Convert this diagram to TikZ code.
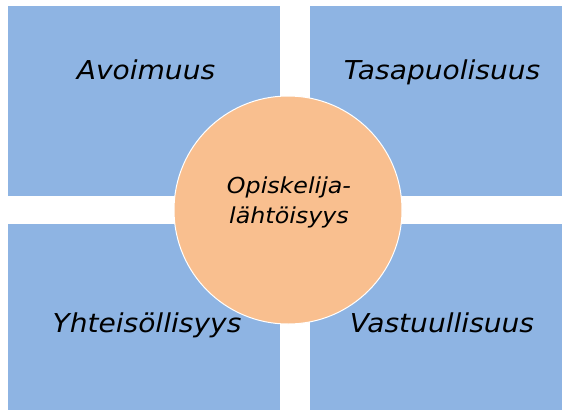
\documentclass[tikz,border=0pt]{standalone}
\usepackage{fontspec}
\setmainfont{DejaVu Sans}[FakeStretch=1.08]
\usetikzlibrary{positioning}

\definecolor{boxblue}{HTML}{8EB4E3}
\definecolor{huborange}{HTML}{F9BF8F}

\tikzset{
	quadlabel/.style={anchor=base, inner sep=0pt, font=\itshape\fontsize{26}{30}\selectfont},
	hubcircle/.style={circle, fill=huborange, draw=white, line width=1pt, minimum size=228pt, inner sep=0pt},
	hublabel/.style={anchor=base, align=center, inner sep=0pt, font=\itshape\fontsize{22}{30}\selectfont}
}

\begin{document}
\begin{tikzpicture}[x=1pt, y=-1pt]
	
	%//page, y grows downwards
	\useasboundingbox (0,0) rectangle (562,410);
	\fill[white] (0,0) rectangle (562,410);
	
	%//the four boxes
	\foreach \xa/\ya/\xb/\yb in {8/6/280/196, 310/6/562/196, 8/224/280/410, 310/224/562/410}
	\fill[boxblue] (\xa,\ya) rectangle (\xb,\yb);
	
	\foreach \n/\x/\y/\val in {avoimuus/146/79/Avoimuus, tasapuolisuus/442/79/Tasapuolisuus, yhteisollisyys/147/332/Yhteisöllisyys, vastuullisuus/442/332/Vastuullisuus}
	\node [quadlabel] (\n) at (\x,\y) {\val};
	
	%//centre
	\node [hubcircle] (hub) at (288,210) {};
	\node [hublabel] (hubtext) at (289,223) {Opiskelija-\\lähtöisyys};
	
\end{tikzpicture}
\end{document}
